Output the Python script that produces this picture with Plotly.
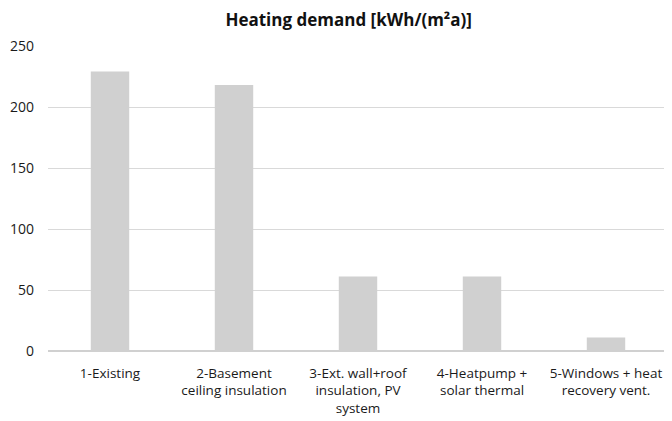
import plotly.graph_objects as go

categories = ["1-Existing", "2-Basement<br>ceiling insulation", "3-Ext. wall+roof<br>insulation, PV<br>system",
              "4-Heatpump +<br>solar thermal", "5-Windows + heat<br>recovery vent."]
values = [229, 218, 61, 61, 11]
y_ticks = [0, 50, 100, 150, 200, 250]

fig = go.Figure(go.Bar(x=categories, y=values, marker=dict(color="#d0d0d0", line=dict(width=0))))
fig.update_layout(
    width=672, height=421,
    paper_bgcolor="white", plot_bgcolor="white",
    margin=dict(l=40, r=12, t=38, b=78, autoexpand=False),
    bargap=0.69,
    font=dict(family="Open Sans, Noto Sans, sans-serif", size=13.5, color="#1a1a1a"),
    title=dict(text="<b>Heating demand [kWh/(m²a)]</b>", x=0.507, xanchor="center", y=0.985, yanchor="top",
               font=dict(size=17, color="#111111")),
    showlegend=False,
)
fig.update_yaxes(range=[0, 250], tickvals=y_ticks, showgrid=True, gridcolor="#d9d9d9", gridwidth=1,
                 zeroline=True, zerolinecolor="#d0d0d0", showline=False, ticks="", ticklabelstandoff=13,
                 automargin=False, tickfont=dict(size=14))
fig.update_xaxes(showgrid=False, showline=False, ticks="", tickangle=0, automargin=False,
                 ticklabelstandoff=12, tickfont=dict(size=13.5))
fig.write_html("out.html")
